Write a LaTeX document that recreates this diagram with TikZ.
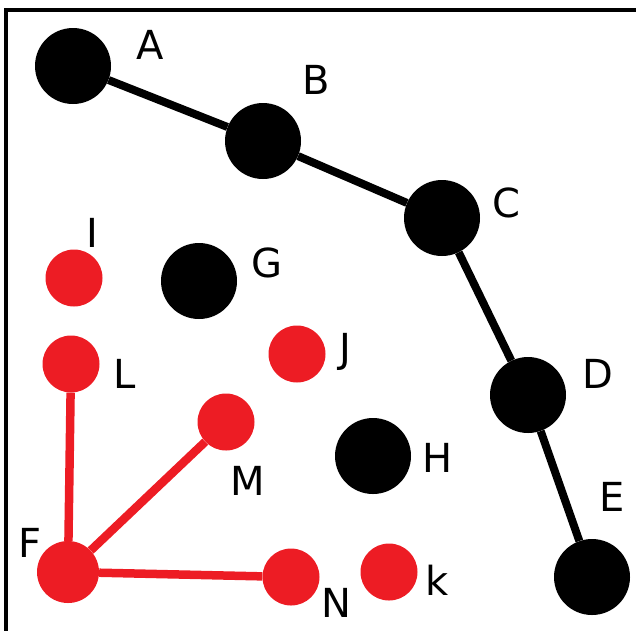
\documentclass[tikz,border=0pt]{standalone}
\usepackage{fontspec}
\setsansfont{DejaVu Sans}
\definecolor{grblack}{RGB}{0,0,0}
\definecolor{grred}{RGB}{237,28,36}
\usetikzlibrary{arrows.meta,positioning}

\begin{document}
\begin{tikzpicture}[x=1pt, y=-1pt,
  bigdot/.style={circle, fill=grblack, inner sep=0pt, minimum size=76pt},
  reddot/.style={circle, fill=grred, inner sep=0pt, minimum size=57pt},
  lbl/.style={font=\sffamily\fontsize{40}{40}\selectfont, text=grblack, inner sep=0pt},
  blackedge/.style={line width=8pt, grblack},
  rededge/.style={line width=8.5pt, grred}]
  \useasboundingbox (0,0) rectangle (636,630);
  \draw[line width=4pt, grblack] (6,632) -- (6,10) -- (638,10);
  % black chain
  \node[bigdot] (A) at (73,66) {};
  \node[bigdot] (B) at (263,141) {};
  \node[bigdot] (C) at (442,218) {};
  \node[bigdot] (D) at (528,395) {};
  \node[bigdot] (E) at (592,577) {};
  \node[bigdot] (G) at (199,281) {};
  \node[bigdot] (H) at (373,456) {};
  \draw[blackedge] (A) -- (B) -- (C) -- (D) -- (E);
  % red group
  \node[reddot] (I) at (74,278) {};
  \node[reddot] (L) at (71,364) {};
  \node[reddot] (J) at (297,354) {};
  \node[reddot] (M) at (226,422) {};
  \node[reddot, minimum size=62pt] (F) at (68,572) {};
  \node[reddot] (N) at (291,577) {};
  \node[reddot] (K) at (389,572) {};
  \draw[rededge] (F) -- (L);
  \draw[rededge] (F) -- (M);
  \draw[rededge] (F) -- (N);
  % labels
  \node[lbl] (lA) at (150,45) {A};
  \node[lbl] (lB) at (316,80) {B};
  \node[lbl] (lC) at (506,203) {C};
  \node[lbl] (lD) at (598,374) {D};
  \node[lbl] (lE) at (612,497) {E};
  \node[lbl] (lG) at (267,263) {G};
  \node[lbl] (lH) at (438,458) {H};
  \node[lbl] (lI) at (92,233) {I};
  \node[lbl] (lJ) at (345,352) {J};
  \node[lbl] (lL) at (125,374) {L};
  \node[lbl] (lM) at (248,481) {M};
  \node[lbl] (lF) at (30,543) {F};
  \node[lbl] (lN) at (336,603) {N};
  \node[lbl] (lK) at (437,580) {k};
\end{tikzpicture}
\end{document}
